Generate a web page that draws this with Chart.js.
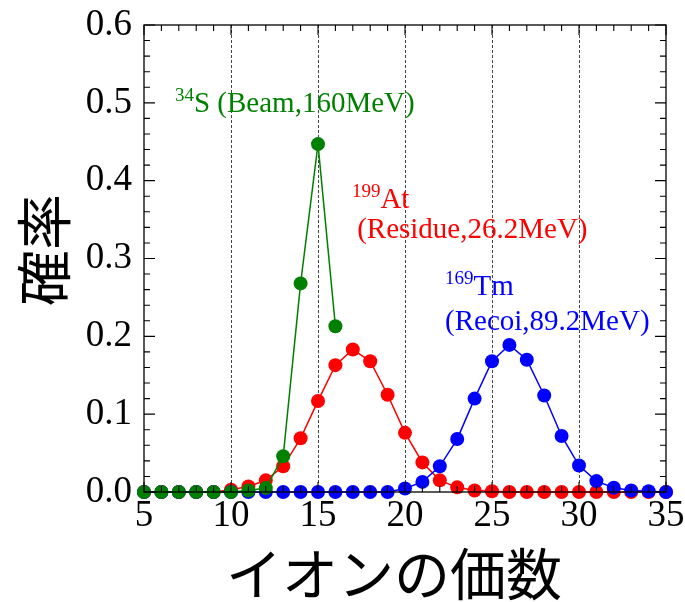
<!DOCTYPE html>
<html>
<head>
<meta charset="utf-8">
<script src="https://cdn.jsdelivr.net/npm/chart.js@4.4.1/dist/chart.umd.min.js"></script>
<style>
html,body{margin:0;padding:0;background:#fff;}
#wrap{width:685px;height:602px;position:relative;}
</style>
</head>
<body>
<div id="wrap"><canvas id="c" width="685" height="602"></canvas></div>
<script>
// ---- data ----
const chargeStates = [5,6,7,8,9,10,11,12,13,14,15,16,17,18,19,20,21,22,23,24,25,26,27,28,29,30,31,32,33,34,35];
const beamCharges = [5,6,7,8,9,10,11,12,13,14,15,16];
const beamS34 = [0,0,0,0,0,0,0.002,0.005,0.046,0.268,0.447,0.213];
const residueAt199 = [0,0,0,0,0,0.003,0.007,0.015,0.033,0.069,0.117,0.163,0.183,0.168,0.125,0.076,0.038,0.015,0.006,0.002,0.001,0,0,0,0,0,0,0,0,0,0];
const recoilTm169 = [0,0,0,0,0,0,0,0,0,0,0,0,0,0,0,0.0045,0.013,0.033,0.068,0.120,0.168,0.189,0.170,0.124,0.072,0.034,0.014,0.0055,0.002,0.001,0];
const xTicks = [5,10,15,20,25,30,35];
const yTicks = [0,0.1,0.2,0.3,0.4,0.5,0.6];
const xTitle = 'イオンの価数';
const yTitle = '確率';
const labels = [
  {sup:'34', main:'S (Beam,160MeV)', color:'#008000', x:6.78, y:0.488},
  {sup:'199', main:'At', color:'#ff0000', x:16.95, y:0.365},
  {sup:'', main:'(Residue,26.2MeV)', color:'#ff0000', x:17.25, y:0.3265},
  {sup:'169', main:'Tm', color:'#0000ff', x:22.3, y:0.253},
  {sup:'', main:'(Recoi,89.2MeV)', color:'#0000ff', x:22.3, y:0.208}
];

const pts = (xs, ys) => xs.map((x,i)=>({x:x, y:ys[i]}));
const SERIF = '"Liberation Serif", "Times New Roman", serif';
const CJK = '"Noto Sans CJK JP", sans-serif';

const framePlugin = {
  id:'frame',
  beforeDatasetsDraw(chart){
    const {ctx, chartArea:a, scales:{x,y}} = chart;
    ctx.save();
    ctx.strokeStyle = '#444';
    ctx.lineWidth = 1;
    ctx.setLineDash([3,2]);
    xTicks.forEach(v=>{
      if (v<=x.min || v>=x.max) return;
      const px = Math.round(x.getPixelForValue(v))+0.5;
      ctx.beginPath(); ctx.moveTo(px,a.top); ctx.lineTo(px,a.bottom); ctx.stroke();
    });
    ctx.restore();
  },
  afterDatasetsDraw(chart){
    const {ctx, chartArea:a, scales:{x,y}} = chart;
    ctx.save();
    ctx.strokeStyle = '#000';
    ctx.lineWidth = 1.3;
    ctx.strokeRect(a.left, a.top, a.right-a.left, a.bottom-a.top);
    ctx.lineWidth = 1.1;
    ctx.beginPath();
    for (let v = x.min; v <= x.max+1e-9; v += 1){
      const px = x.getPixelForValue(v);
      const len = (v % 5 === 0) ? 10 : 6;
      ctx.moveTo(px, a.bottom); ctx.lineTo(px, a.bottom-len);
      ctx.moveTo(px, a.top); ctx.lineTo(px, a.top+len);
    }
    for (let i = 0; i <= 30; i++){
      const v = i*0.02;
      const py = y.getPixelForValue(v);
      const len = (i % 5 === 0) ? 11 : 6;
      ctx.moveTo(a.left, py); ctx.lineTo(a.left+len, py);
      ctx.moveTo(a.right, py); ctx.lineTo(a.right-len, py);
    }
    ctx.stroke();
    ctx.restore();
  },
  afterDraw(chart){
    const {ctx, scales:{x,y}} = chart;
    ctx.save();
    ctx.textBaseline = 'alphabetic';
    labels.forEach(l=>{
      let px = x.getPixelForValue(l.x);
      const py = y.getPixelForValue(l.y);
      ctx.fillStyle = l.color;
      if (l.sup){
        ctx.font = '19px ' + SERIF;
        ctx.textAlign = 'left';
        ctx.fillText(l.sup, px, py-11);
        px += ctx.measureText(l.sup).width;
      }
      ctx.font = '29px ' + SERIF;
      ctx.textAlign = 'left';
      ctx.fillText(l.main, px, py);
    });
    ctx.fillStyle = '#000';
    ctx.font = '56px ' + CJK;
    ctx.textAlign = 'center';
    ctx.textBaseline = 'middle';
    ctx.fillText(xTitle, 394, 574);
    ctx.translate(44, 250);
    ctx.rotate(-Math.PI/2);
    ctx.fillText(yTitle, 0, 0);
    ctx.restore();
  }
};

const mk = (label, data, color) => ({
  label, data,
  borderColor: color, backgroundColor: color,
  pointBackgroundColor: color, pointBorderColor: color,
  borderWidth: 1.5, pointRadius: 7, pointBorderWidth: 0,
  pointHoverRadius: 7, tension: 0, clip: false
});

const zeroPad = s => { s.paddingTop = 0; s.paddingBottom = 0; s.paddingLeft = 0; s.paddingRight = 0; };

new Chart(document.getElementById('c'), {
  type: 'line',
  data: {
    datasets: [
      mk('34S', pts(beamCharges, beamS34), '#008000'),
      mk('169Tm', pts(chargeStates, recoilTm169), '#0000ff'),
      mk('199At', pts(chargeStates, residueAt199), '#ff0000')
    ]
  },
  options: {
    responsive: false,
    animation: false,
    events: [],
    layout: { padding: { top: 25, right: 19, left: 0, bottom: 0 } },
    plugins: { legend: { display: false }, tooltip: { enabled: false }, title: { display: false } },
    scales: {
      x: {
        type: 'linear', min: 5, max: 35,
        afterBuildTicks: s => { s.ticks = xTicks.map(v=>({value:v})); },
        afterFit: s => { s.height = 110; zeroPad(s); },
        grid: { display: false, drawTicks: false },
        border: { display: false },
        ticks: { color: '#000', font: { family: SERIF, size: 37 }, padding: 2, maxRotation: 0, autoSkip: false }
      },
      y: {
        type: 'linear', min: 0, max: 0.6,
        afterBuildTicks: s => { s.ticks = yTicks.map(v=>({value:v})); },
        afterFit: s => { s.width = 144; zeroPad(s); },
        grid: { display: false, drawTicks: false },
        border: { display: false },
        ticks: { color: '#000', font: { family: SERIF, size: 37 }, padding: 12, callback: v => Number(v).toFixed(1) }
      }
    }
  },
  plugins: [framePlugin]
});
</script>
</body>
</html>
